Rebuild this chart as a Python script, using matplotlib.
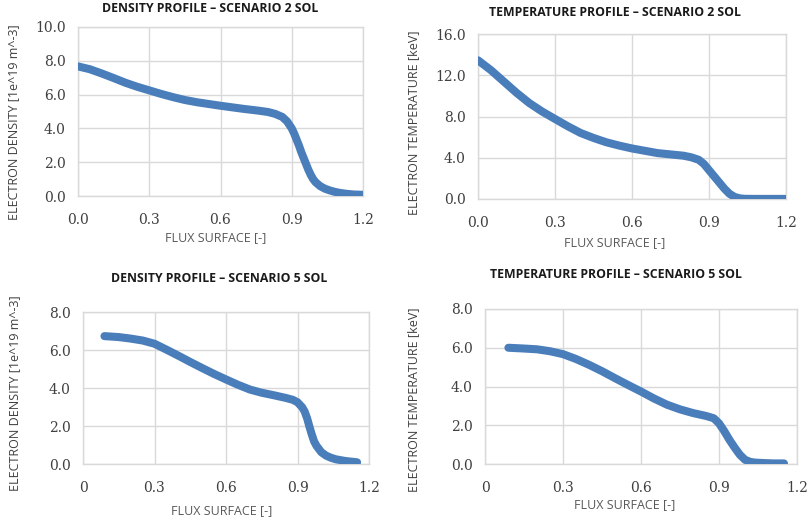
"""
Electron density / temperature profiles, scenarios 2 and 5 (SOL).
"""

import matplotlib.pyplot as plt
from matplotlib.ticker import FixedLocator, FixedFormatter

# scenario 2 density
x_n2 = [0.0, 0.05, 0.1, 0.15, 0.2, 0.25, 0.3, 0.35, 0.4, 0.45, 0.5, 0.6,
        0.7, 0.76, 0.8, 0.83, 0.86, 0.88, 0.9, 0.91, 0.92, 0.93, 0.94,
        0.95, 0.96, 0.97, 0.98, 0.99, 1.0, 1.02, 1.04, 1.06, 1.08, 1.1,
        1.13, 1.16, 1.2]
n2 = [7.67, 7.5, 7.25, 6.98, 6.7, 6.46, 6.25, 6.04, 5.85, 5.68, 5.55, 5.34,
      5.15, 5.05, 4.97, 4.86, 4.68, 4.42, 4.0, 3.7, 3.35, 3.0, 2.6,
      2.25, 1.9, 1.55, 1.25, 1.0, 0.82, 0.58, 0.43, 0.33, 0.25, 0.19,
      0.13, 0.09, 0.07]

# scenario 2 temperature
x_t2 = [0.0, 0.05, 0.1, 0.15, 0.2, 0.25, 0.3, 0.35, 0.4, 0.45, 0.5, 0.55,
        0.6, 0.7, 0.8, 0.83, 0.86, 0.88, 0.9, 0.92, 0.94, 0.96, 0.98,
        1.0, 1.02, 1.04, 1.08, 1.15, 1.2]
t2 = [13.45, 12.5, 11.4, 10.3, 9.3, 8.48, 7.76, 7.05, 6.4, 5.92, 5.5, 5.18,
      4.9, 4.45, 4.2, 4.05, 3.8, 3.4, 2.8, 2.2, 1.6, 1.0, 0.5,
      0.2, 0.06, 0.02, 0.01, 0.01, 0.01]

# scenario 5 density
x_n5 = [0.09, 0.15, 0.2, 0.25, 0.3, 0.35, 0.4, 0.45, 0.5, 0.55, 0.6, 0.65,
        0.7, 0.75, 0.8, 0.85, 0.88, 0.9, 0.92, 0.93, 0.94, 0.95, 0.96,
        0.97, 0.98, 1.0, 1.02, 1.04, 1.06, 1.1, 1.15]
n5 = [6.73, 6.68, 6.6, 6.5, 6.33, 6.02, 5.7, 5.37, 5.05, 4.74, 4.45, 4.17,
      3.92, 3.75, 3.62, 3.48, 3.38, 3.25, 2.98, 2.76, 2.42, 1.97, 1.55,
      1.18, 0.95, 0.62, 0.44, 0.33, 0.25, 0.16, 0.09]

# scenario 5 temperature
x_t5 = [0.09, 0.15, 0.2, 0.25, 0.3, 0.35, 0.4, 0.45, 0.5, 0.55, 0.6, 0.65,
        0.7, 0.75, 0.8, 0.85, 0.88, 0.9, 0.92, 0.94, 0.96, 0.98, 1.0,
        1.02, 1.04, 1.07, 1.11, 1.15]
t5 = [6.0, 5.96, 5.92, 5.82, 5.67, 5.42, 5.12, 4.79, 4.43, 4.08, 3.74, 3.38,
      3.06, 2.82, 2.63, 2.48, 2.36, 2.1, 1.7, 1.25, 0.85, 0.48, 0.22,
      0.11, 0.07, 0.05, 0.03, 0.03]

x_ticks = [0.0, 0.3, 0.6, 0.9, 1.2]
x_labels_top = ["0.0", "0.3", "0.6", "0.9", "1.2"]
x_labels_bot = ["0", "0.3", "0.6", "0.9", "1.2"]

LINE = "#4a7ebb"
GRID = "#d9d9d9"
TICK_FONT = "DejaVu Serif"
TEXT_FONT = "Open Sans"

W, H = 807, 520
fig = plt.figure(figsize=(W / 100, H / 100), dpi=100)


def px_axes(l, t, r, b):
    return fig.add_axes([l / W, 1 - b / H, (r - l) / W, (b - t) / H])


panels = [
    # rect, x, y, ymax, ystep, xlabels, title, title pos, ylabel, ylabel pos, xlabel pos
    ((78, 27, 363, 196), x_n2, n2, 10.0, 2.0, x_labels_top,
     "DENSITY PROFILE \u2013 SCENARIO 2 SOL", (210, 9),
     "ELECTRON DENSITY [1e^19 m^-3]", (14, 122), (216, 238)),
    ((478, 34, 786, 199), x_t2, t2, 16.0, 4.0, x_labels_top,
     "TEMPERATURE PROFILE \u2013 SCENARIO 2 SOL", (615, 12),
     "ELECTRON TEMPERATURE [keV]", (414, 123), (615, 243)),
    ((83, 312, 369, 464), x_n5, n5, 8.0, 2.0, x_labels_bot,
     "DENSITY PROFILE \u2013 SCENARIO 5 SOL", (219, 279),
     "ELECTRON DENSITY [1e^19 m^-3]", (15, 393), (222, 511)),
    ((485, 309, 797, 464), x_t5, t5, 8.0, 2.0, x_labels_bot,
     "TEMPERATURE PROFILE \u2013 SCENARIO 5 SOL", (616, 274),
     "ELECTRON TEMPERATURE [keV]", (414, 400), (625, 505)),
]

for rect, xs, ys, ymax, ystep, xlabs, title, tpos, ylab, ypos, xpos in panels:
    ax = px_axes(*rect)
    ax.plot(xs, ys, color=LINE, linewidth=5.8, solid_capstyle="round",
            solid_joinstyle="round", zorder=3)
    ax.set_xlim(0, 1.2)
    ax.set_ylim(0, ymax)
    yt = [i * ystep for i in range(int(round(ymax / ystep)) + 1)]
    ax.yaxis.set_major_locator(FixedLocator(yt))
    ax.yaxis.set_major_formatter(FixedFormatter([f"{v:.1f}" for v in yt]))
    ax.xaxis.set_major_locator(FixedLocator(x_ticks))
    ax.xaxis.set_major_formatter(FixedFormatter(xlabs))
    ax.grid(True, color=GRID, linewidth=1.0, zorder=0)
    ax.set_axisbelow(True)
    for s in ax.spines.values():
        s.set_color(GRID)
        s.set_linewidth(1.0)
    ax.tick_params(length=0, labelsize=10, labelcolor="#404040")
    ax.tick_params(axis="x", pad=12)
    ax.tick_params(axis="y", pad=9)
    for lab in ax.get_xticklabels() + ax.get_yticklabels():
        lab.set_fontfamily(TICK_FONT)

    fig.text(tpos[0] / W, 1 - tpos[1] / H, title, ha="center", va="center",
             fontsize=8.8, fontweight="bold", family=TEXT_FONT, color="#1a1a1a")
    fig.text(ypos[0] / W, 1 - ypos[1] / H, ylab, ha="center", va="center",
             rotation=90, fontsize=9, family=TEXT_FONT, color="#404040")
    fig.text(xpos[0] / W, 1 - xpos[1] / H, "FLUX SURFACE [-]", ha="center",
             va="center", fontsize=9, family=TEXT_FONT, color="#595959")

fig.savefig("out.png", dpi=100, facecolor="white")
plt.close(fig)
